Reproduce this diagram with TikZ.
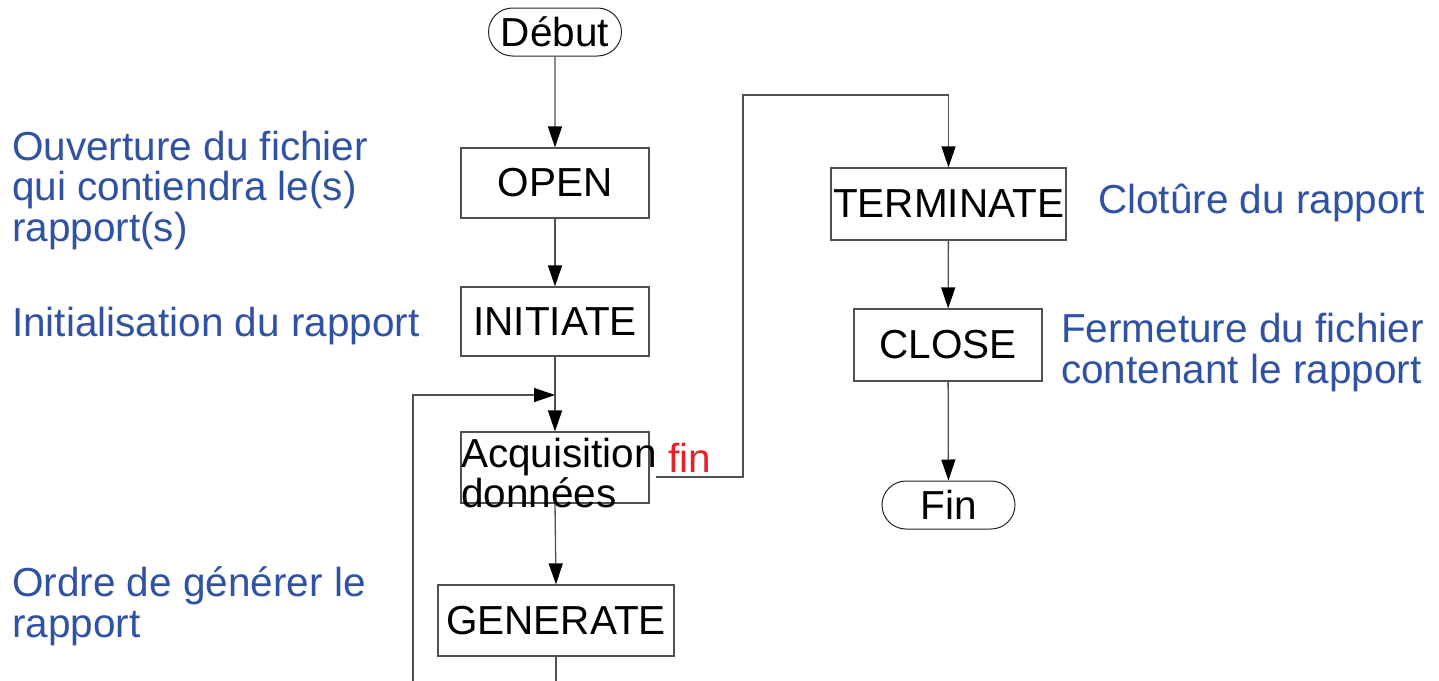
\documentclass[tikz,border=0pt]{standalone}
\usepackage{fontspec}
\setmainfont{Liberation Sans}
\usetikzlibrary{arrows.meta,shapes.misc}
\definecolor{lblue}{RGB}{47,82,164}
\definecolor{lred}{RGB}{232,30,40}
\definecolor{lgray}{RGB}{80,80,80}
\begin{document}
\begin{tikzpicture}[x=1pt,y=-1pt,
  every node/.style={font=\fontsize{40.5}{40.5}\selectfont, inner sep=0pt},
  box/.style={draw=lgray, line width=1.2pt, rectangle},
  term/.style={draw=black!85, line width=1pt, rounded rectangle, minimum width=133pt, minimum height=48pt},
  conn/.style={draw=lgray, line width=1.3pt},
  arr/.style={conn, -{Triangle[length=21pt,width=14pt,color=black]}},
  lbl/.style={text=lblue, align=left, anchor=base west},
]
\useasboundingbox (0,0) rectangle (1439,680);
\fill[white] (0,0) rectangle (1439,680);

% main column
\node[term] (debut) at (555,32) {Début};
\node[box, minimum width=188pt, minimum height=70pt] (open) at (555,183) {OPEN};
\node[box, minimum width=188pt, minimum height=69pt] (init) at (555,321.5) {INITIATE};
\node[box, minimum width=188pt, minimum height=71pt] (acq) at (555,467.5) {};
\node[anchor=base west] (acqt1) at (461,467) {Acquisition};
\node[anchor=base west] (acqt2) at (461,507) {données};
\node[box, minimum width=236pt, minimum height=71pt] (gen) at (556,620.5) {GENERATE};

% right column
\node[box, minimum width=235pt, minimum height=72pt] (term) at (948.5,204) {TERMINATE};
\node[box, minimum width=188pt, minimum height=72pt] (close) at (948,345) {CLOSE};
\node[term] (fin) at (948.5,505) {Fin};

% connectors
\draw[arr] (debut) -- (open);
\draw[arr] (open) -- (init);
\coordinate (loopin) at (555,395);
\draw[conn] (init.south) -- (loopin);
\draw[arr] (loopin) -- (acq.north);
\draw[arr] (acq.south) -- (gen.north);
\coordinate (loopbot) at (413,700);
\draw[arr] (gen.south) |- (loopbot) |- (loopin);

\coordinate (finstart) at (656,477);
\coordinate (finup) at (743,95);
\draw[arr] (finstart) -| (finup) -| (term.north);
\node[anchor=base west, text=lred] (finlbl) at (668,472) {fin};

\draw[arr] (term) -- (close);
\draw[arr] (close) -- (fin);

% blue comments (base = last line's baseline)
\node[lbl] (c1) at (12,241) {Ouverture du fichier\\qui contiendra le(s)\\rapport(s)};
\node[lbl] (c2) at (12,336) {Initialisation du rapport};
\node[lbl] (c3) at (12,637) {Ordre de générer le\\rapport};
\node[lbl] (c4) at (1098,213) {Clotûre du rapport};
\node[lbl] (c5) at (1061,383) {Fermeture du fichier\\contenant le rapport};
\end{tikzpicture}
\end{document}
